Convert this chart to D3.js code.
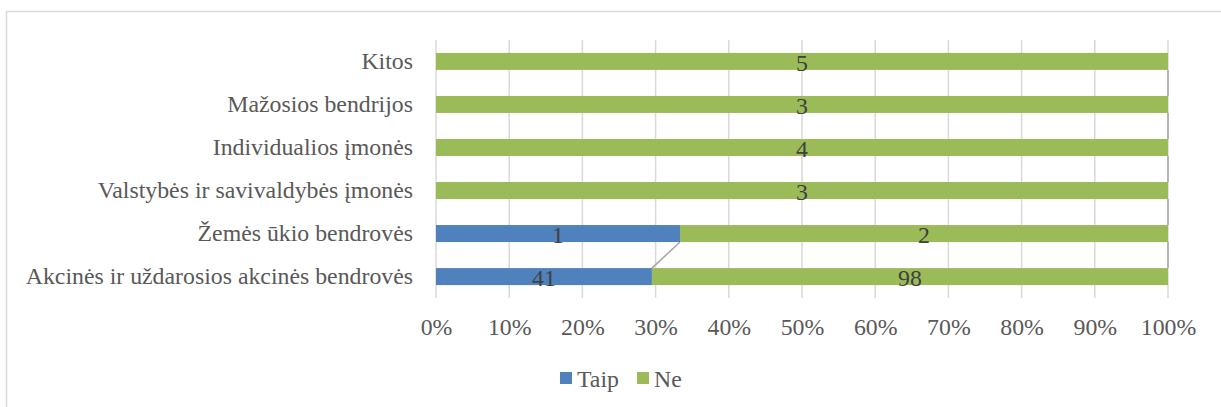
<!DOCTYPE html>
<html><head><meta charset="utf-8">
<script src="https://cdn.jsdelivr.net/npm/d3@7"></script>
<style>body{margin:0;background:#fff}svg{display:block}
svg text{font-family:"Liberation Serif","Times New Roman","DejaVu Serif",serif !important;}</style>
</head><body>
<script>
const categories = ["Akcinės ir uždarosios akcinės bendrovės","Žemės ūkio bendrovės","Valstybės ir savivaldybės įmonės","Individualios įmonės","Mažosios bendrijos","Kitos"];
const taip = [41, 1, 0, 0, 0, 0];
const ne = [98, 2, 3, 4, 3, 5];
const seriesNames = ["Taip", "Ne"];
const colors = ["#4F81BD", "#9BBB59"];
const xTicks = [0,0.1,0.2,0.3,0.4,0.5,0.6,0.7,0.8,0.9,1];

const W = 1221, H = 407;
const fs = "23.8px";
const svg = d3.select("body").append("svg").attr("width", W).attr("height", H);
svg.append("rect").attr("x",6.5).attr("y",11.5).attr("width",1230).attr("height",420)
  .attr("fill","#fff").attr("stroke","#D9D9D9").attr("stroke-width",1.5);

const pLeft = 436, pRight = 1168, pTop = 40, pBottom = 298;
const x = d3.scaleLinear().domain([0,1]).range([pLeft,pRight]);
const y = d3.scaleBand().domain(categories.slice().reverse()).range([pTop,pBottom]).paddingInner(0.605).paddingOuter(0.3);

const rows = categories.map((c,i)=>({cat:c, vals:[taip[i], ne[i]], total: taip[i]+ne[i]}));
rows.forEach(r=>{ let acc=0; r.segs = r.vals.map((v,k)=>{const s={k, v, x0:acc/r.total, x1:(acc+v)/r.total}; acc+=v; return s;}); });

// gridlines
svg.append("g").selectAll("line").data(xTicks).join("line")
  .attr("x1",d=>x(d)).attr("x2",d=>x(d)).attr("y1",pTop).attr("y2",pBottom)
  .attr("stroke","#D9D9D9").attr("stroke-width",1.5);

// axis
const ax = svg.append("g").attr("transform",`translate(0,${pBottom})`)
  .call(d3.axisBottom(x).tickValues(xTicks).tickFormat(d3.format(".0%")).tickSize(0).tickPadding(20));
ax.attr("font-family",null).attr("font-size",null);
ax.select(".domain").remove();
ax.selectAll("text").style("font-size",fs).attr("fill","#595959");

// series lines
const sl = svg.append("g");
for (let i=0;i<rows.length-1;i++){
  const a = rows[i], b = rows[i+1];
  for (let k=0;k<2;k++){
    if (a.vals[k]===0 || b.vals[k]===0) continue;
    sl.append("line")
      .attr("x1",x(a.segs[k].x1)).attr("y1",y(a.cat))
      .attr("x2",x(b.segs[k].x1)).attr("y2",y(b.cat)+y.bandwidth())
      .attr("stroke","#A6A6A6").attr("stroke-width",1.5);
  }
}

// bars
const g = svg.append("g");
rows.forEach(r=>{
  r.segs.filter(s=>s.v>0).forEach(s=>{
    g.append("rect").attr("x",x(s.x0)).attr("y",y(r.cat)).attr("width",x(s.x1)-x(s.x0)).attr("height",y.bandwidth())
      .attr("fill",colors[s.k]);
    g.append("text").attr("x",(x(s.x0)+x(s.x1))/2).attr("y",y(r.cat)+y.bandwidth()/2).attr("dy","0.4em")
      .attr("text-anchor","middle").style("font-size",fs).attr("fill","#404040").text(s.v);
  });
});

// category labels
svg.append("g").selectAll("text").data(categories).join("text")
  .attr("x",413).attr("y",d=>y(d)+y.bandwidth()/2).attr("dy","0.33em").attr("text-anchor","end")
  .style("font-size",fs).attr("fill","#595959").text(d=>d);

// legend
const lg = svg.append("g");
const lx = [560, 637];
seriesNames.forEach((n,k)=>{
  lg.append("rect").attr("x",lx[k]).attr("y",372).attr("width",12).attr("height",12).attr("fill",colors[k]);
  lg.append("text").attr("x",lx[k]+17).attr("y",387)
    .style("font-size",fs).attr("fill","#595959").text(n);
});
</script>
</body></html>
